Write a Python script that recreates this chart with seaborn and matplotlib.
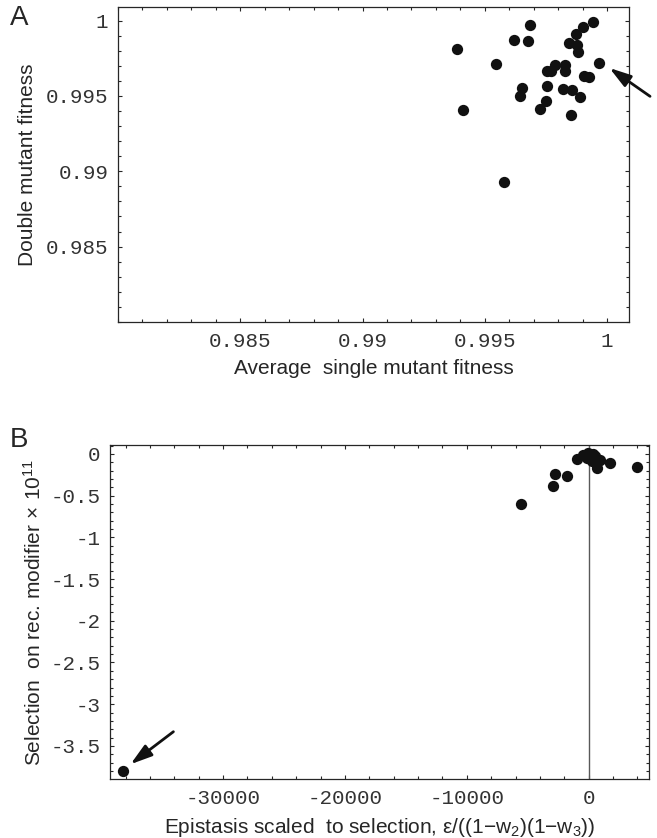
import numpy as np
import pandas as pd
import matplotlib
matplotlib.use("Agg")
import matplotlib.pyplot as plt
from matplotlib.ticker import MultipleLocator, FuncFormatter
import seaborn as sns

# Panel A: average single mutant fitness vs double mutant fitness
single_fit = [0.99386, 0.99409, 0.99545, 0.99579, 0.99621, 0.99677, 0.99684, 0.99653,
              0.99644, 0.99726, 0.99751, 0.99754, 0.99754, 0.99770, 0.99787, 0.99828,
              0.99828, 0.99821, 0.99856, 0.99853, 0.99890, 0.99845, 0.99879, 0.99880,
              0.99873, 0.99903, 0.99944, 0.99906, 0.99928, 0.99967]
double_fit = [0.99812, 0.99407, 0.99712, 0.98926, 0.99872, 0.99867, 0.99969, 0.99553,
              0.99500, 0.99416, 0.99469, 0.99568, 0.99663, 0.99663, 0.99706, 0.99706,
              0.99663, 0.99548, 0.99542, 0.99376, 0.99493, 0.99854, 0.99836, 0.99792,
              0.99912, 0.99958, 0.99989, 0.99630, 0.99626, 0.99717]

# Panel B: scaled epistasis vs selection on recombination modifier (x 1e11)
epistasis = [-38200, -5590, -2910, -2770, -1810, -990, -440, -30, 380, 250, 660,
             930, 1750, 3940, 520, -160, 790]
selection = [-3.80, -0.60, -0.38, -0.24, -0.26, -0.06, -0.01, 0.01, 0.0, -0.09,
             -0.17, -0.07, -0.11, -0.16, -0.03, -0.05, -0.09]

df_a = pd.DataFrame({"single": single_fit, "double": double_fit})
df_b = pd.DataFrame({"eps": epistasis, "sel": selection})

sns.set_style("ticks")
plt.rcParams["font.family"] = ["Liberation Sans", "DejaVu Sans"]
plt.rcParams["axes.unicode_minus"] = False
plt.rcParams["mathtext.fontset"] = "custom"
plt.rcParams["mathtext.rm"] = "Liberation Sans"
plt.rcParams["mathtext.it"] = "Liberation Sans:italic"

mono = {"family": "Liberation Mono", "size": 15}
fmt = FuncFormatter(lambda v, p: f"{v:g}")
arrow = dict(arrowstyle="-|>,head_length=1.3,head_width=0.4", color="#111111",
             lw=2, shrinkA=0, shrinkB=0)


def frame_style(ax):
    for s in ax.spines.values():
        s.set_linewidth(0.9)
        s.set_color("0.15")
    ax.tick_params(which="both", direction="in", top=True, right=True,
                   color="0.15", width=0.8)
    ax.tick_params(which="major", length=3.2, pad=7)
    ax.tick_params(which="minor", length=2)
    for lab in ax.get_xticklabels() + ax.get_yticklabels():
        lab.set_fontfamily(mono["family"])
        lab.set_fontsize(mono["size"])
        lab.set_color("0.2")


fig = plt.figure(figsize=(6.57, 8.38), dpi=100)

# ---- Panel A
ax1 = fig.add_axes([0.1796, 0.6158, 0.7778, 0.3759])
sns.scatterplot(data=df_a, x="single", y="double", ax=ax1, color="#111111",
                s=66, linewidth=0, legend=False)
ax1.set_xlim(0.98, 1.0009)
ax1.set_ylim(0.98, 1.0009)
ax1.xaxis.set_major_locator(MultipleLocator(0.005))
ax1.xaxis.set_minor_locator(MultipleLocator(0.001))
ax1.yaxis.set_major_locator(MultipleLocator(0.005))
ax1.yaxis.set_minor_locator(MultipleLocator(0.001))
ax1.xaxis.set_major_formatter(fmt)
ax1.yaxis.set_major_formatter(fmt)
ax1.set_xticks([0.985, 0.99, 0.995, 1.0])
ax1.set_yticks([0.985, 0.99, 0.995, 1.0])
frame_style(ax1)
ax1.set_xlabel("Average  single mutant fitness", fontsize=15, color="0.15", labelpad=6)
ax1.set_ylabel("Double mutant fitness", fontsize=15, color="0.15", labelpad=6)
ax1.annotate("", xy=(1.0001, 0.99685), xytext=(1.00176, 0.99497),
             arrowprops=arrow, annotation_clip=False)
fig.text(0.015, 0.994, "A", fontsize=20, color="0.15", va="top")

# ---- Panel B
ax2 = fig.add_axes([0.1674, 0.0704, 0.8204, 0.3986])
ax2.axvline(0, color="0.35", lw=1, zorder=1)
sns.scatterplot(data=df_b, x="eps", y="sel", ax=ax2, color="#111111",
                s=66, linewidth=0, legend=False, zorder=3)
ax2.set_xlim(-39285, 4955)
ax2.set_ylim(-3.897, 0.108)
ax2.xaxis.set_major_locator(MultipleLocator(10000))
ax2.xaxis.set_minor_locator(MultipleLocator(2000))
ax2.yaxis.set_major_locator(MultipleLocator(0.5))
ax2.yaxis.set_minor_locator(MultipleLocator(0.1))
ax2.xaxis.set_major_formatter(fmt)
ax2.yaxis.set_major_formatter(fmt)
ax2.set_xticks([-30000, -20000, -10000, 0])
ax2.set_yticks([-3.5, -3, -2.5, -2, -1.5, -1, -0.5, 0])
frame_style(ax2)
ax2.set_xlabel("Epistasis scaled  to selection, ε/((1$-$w$_2$)(1$-$w$_3$))",
               fontsize=15, color="0.15", labelpad=6)
ax2.set_ylabel("Selection  on rec. modifier$\\,\\times\\,$10$^{11}$",
               fontsize=15, color="0.15", labelpad=4)
ax2.annotate("", xy=(-37600, -3.72), xytext=(-34080, -3.33), arrowprops=arrow)
fig.text(0.015, 0.49, "B", fontsize=20, color="0.15", va="top")

fig.savefig("out.png", dpi=100)
